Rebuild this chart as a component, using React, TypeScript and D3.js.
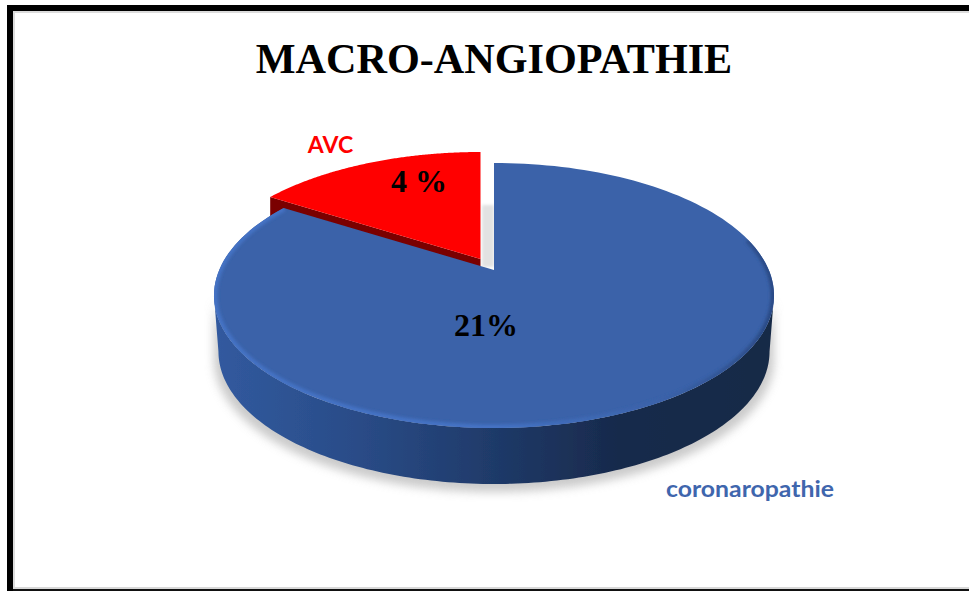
import React from "react";
import * as d3 from "d3";

const categories = ["coronaropathie", "AVC"];
const seriesValues = [21, 4];
const valueLabels = ["21%", "4 %"];
const chartTitle = "MACRO-ANGIOPATHIE";

const W = 969, H = 591;
const CX = 494, APEX_Y = 270;
// Perspective projection of the unit disc on to the page
const TILT = 0.1924, SCALE_Y = 127.6, SCALE_X = 274.8;
const DEPTH = 56;
const EXPLODE: [number, number] = [-13.5, -11];

const project = (phi: number, r = 1): [number, number] => {
  const u = r * Math.sin(phi), v = -r * Math.cos(phi);
  const w = 1 - TILT * v;
  return [CX + (SCALE_X * u) / w, APEX_Y + (SCALE_Y * v) / w];
};
const sweep = (a0: number, a1: number, n = 160) =>
  d3.range(n + 1).map((i) => a0 + ((a1 - a0) * i) / n);
const line = d3.line<[number, number]>();
const shift = (p: [number, number], dx: number, dy: number): [number, number] => [p[0] + dx, p[1] + dy];
const lower = (p: [number, number], depth: number, k: number): [number, number] => [
  CX + (p[0] - CX) * k,
  p[1] + depth,
];

const slices = d3.pie<number>().sort(null)(seriesValues);
const blue = slices[0];
const red = slices[1];

const wedge = (a0: number, a1: number, dx = 0, dy = 0) =>
  line([shift([CX, APEX_Y], dx, dy), ...sweep(a0, a1).map((a) => shift(project(a), dx, dy))])! + "Z";

const tangent = Math.acos(-TILT);
const frontRim = sweep(tangent, 2 * Math.PI - tangent).map((a) => project(a));
const wallPath = line([...frontRim, ...frontRim.slice().reverse().map((p) => lower(p, DEPTH, 0.984))])! + "Z";
const shadowPath =
  line([...frontRim, ...frontRim.slice().reverse().map((p) => lower(p, DEPTH + 8, 1.0))])! + "Z";
const bevelPath = line(sweep(Math.PI * 0.42, blue.endAngle).map((a) => project(a)))!;

const redCorner = shift(project(red.startAngle), EXPLODE[0], EXPLODE[1]);
const redApex = shift([CX, APEX_Y], EXPLODE[0], EXPLODE[1]);
const redWall =
  line([redCorner, redApex, shift(redApex, 0, DEPTH), shift(redCorner, 0, DEPTH)])! + "Z";

export default function App() {
  return (
    <svg width={W} height={H} style={{ position: "absolute", left: 0, top: 0, background: "#fff" }}>
      <defs>
        <linearGradient id="wall" gradientUnits="userSpaceOnUse" x1={214} x2={774} y1={0} y2={0}>
          <stop offset="0" stopColor="#315a9f" />
          <stop offset="0.25" stopColor="#2a4c88" />
          <stop offset="0.5" stopColor="#1f3a69" />
          <stop offset="0.72" stopColor="#182a4c" />
          <stop offset="1" stopColor="#172946" />
        </linearGradient>
        <linearGradient id="bevel" gradientUnits="userSpaceOnUse" x1={214} x2={774} y1={0} y2={0}>
          <stop offset="0" stopColor="#4472c4" />
          <stop offset="0.5" stopColor="#4472c4" />
          <stop offset="0.8" stopColor="#3a62a9" />
          <stop offset="1" stopColor="#2a4a85" />
        </linearGradient>
        <filter id="blur6" x="-20%" y="-20%" width="140%" height="140%">
          <feGaussianBlur stdDeviation="5" />
        </filter>
        <filter id="blur2" x="-10%" y="-10%" width="120%" height="120%">
          <feGaussianBlur stdDeviation="1.6" />
        </filter>
        <filter id="soft" x="-5%" y="-5%" width="110%" height="110%">
          <feGaussianBlur stdDeviation="0.6" />
        </filter>
        <clipPath id="blueClip">
          <path d={wedge(blue.startAngle, blue.endAngle)} />
        </clipPath>
      </defs>

      {/* frame */}
      <rect x={7} y={5} width={962} height={6} fill="#000" />
      <rect x={7} y={5} width={6} height={586} fill="#000" />
      <rect x={13} y={11} width={956} height={2} fill="#dcdcdc" />
      <rect x={13} y={11} width={2} height={577} fill="#dcdcdc" />
      <rect x={13} y={587} width={956} height={2} fill="#d8d8d8" />
      <rect x={13} y={589} width={956} height={2} fill="#111" />

      <text x={494} y={73} textAnchor="middle" fontFamily="'Liberation Serif'" fontWeight={700} fontSize={42.2} fill="#000">
        {chartTitle}
      </text>

      {/* shadows */}
      <path d={shadowPath} fill="#bdbdbd" opacity={0.8} filter="url(#blur6)" />
      <rect x={482} y={205} width={12} height={62} fill="#e2e2e2" filter="url(#blur2)" />

      <g filter="url(#soft)">
        {/* exploded slice */}
        <path d={redWall} fill="#7a0000" />
        <path d={wedge(red.startAngle, red.endAngle, EXPLODE[0], EXPLODE[1])} fill="#ff0000" />

        {/* main slice */}
        <path d={wallPath} fill="url(#wall)" />
        <path d={wedge(blue.startAngle, blue.endAngle)} fill="#3a62a9" />
        <g clipPath="url(#blueClip)">
          <path d={bevelPath} fill="none" stroke="url(#bevel)" strokeWidth={7} filter="url(#blur2)" />
        </g>
      </g>

      <text x={419} y={192} textAnchor="middle" fontFamily="'Liberation Serif'" fontWeight={700} fontSize={32} fill="#000">
        {valueLabels[1]}
      </text>
      <text x={486} y={336} textAnchor="middle" fontFamily="'Liberation Serif'" fontWeight={700} fontSize={32} fill="#000">
        {valueLabels[0]}
      </text>
      <text x={330.5} y={153} textAnchor="middle" fontFamily="Lato" fontWeight={700} fontSize={23} fill="#ff0000">
        {categories[1]}
      </text>
      <text x={750} y={497} textAnchor="middle" fontFamily="Lato" fontWeight={700} fontSize={23} textLength={168} lengthAdjust="spacingAndGlyphs" fill="#3f66ad">
        {categories[0]}
      </text>
    </svg>
  );
}
